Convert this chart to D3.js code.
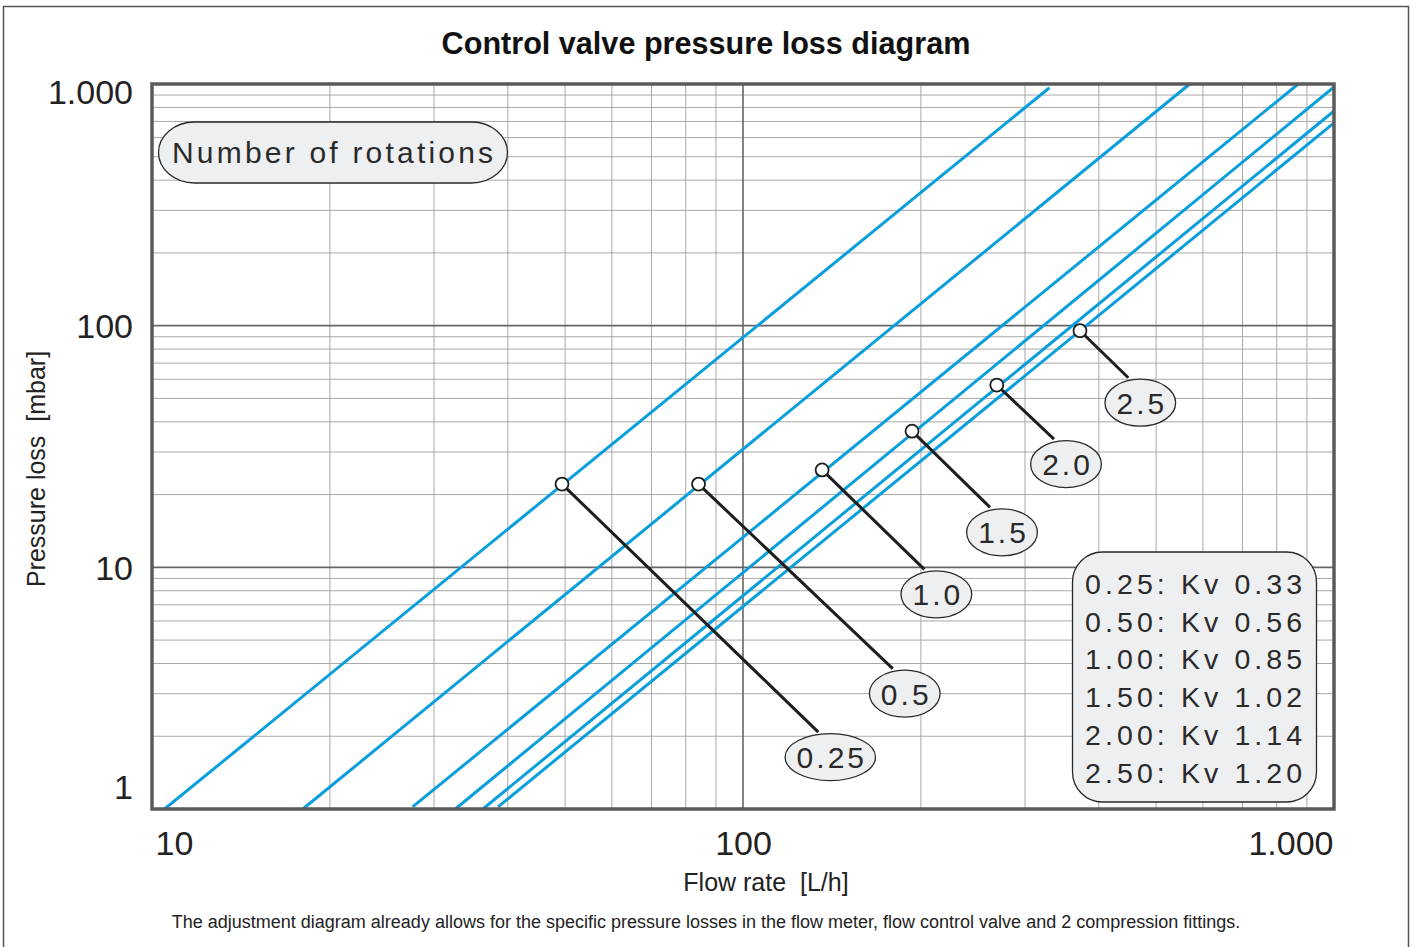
<html>
    <head>
        <title>Control valve pressure loss diagram</title>
        <script src="https://d3js.org/d3.v7.min.js" charset="utf-8"></script>
        <style>
            body { margin: 0; background: #fff; }
            text { font-family: "Liberation Sans", Arial, sans-serif; white-space: pre; }
        </style>
    </head>

    <body>
        <script type="text/javascript">

            // valve settings (number of rotations) and their Kv values
            var rotations = [0.25, 0.5, 1.0, 1.5, 2.0, 2.5];
            var kvValues = [0.33, 0.56, 0.85, 1.02, 1.14, 1.20];

            // each Kv line, start and end as [flow L/h, pressure mbar]
            var lineStart = [[10.5, 1], [18.0, 1], [27.6, 1.02], [32.6, 1], [36.3, 1], [38.5, 1.02]];
            var lineEnd = [[330, 965], [570, 1000], [870, 1000], [1000, 972], [1000, 773], [1000, 690]];

            // marked points on the lines
            var markerFlow = [49.4, 84.1, 136.1, 193.2, 268.8, 371.7];
            var markerPressure = [22.1, 22.1, 25.3, 36.6, 56.8, 95.3];

            // where the leader lines end (flow, pressure)
            var calloutFlow = [134.1, 179.2, 202.7, 261.8, 335.9, 448.7];
            var calloutPressure = [2.08, 3.81, 9.81, 17.7, 33.9, 60.9];

            // axes
            var xTicks = [10, 100, 1000];
            var yTicks = [1, 10, 100, 1000];
            var xDomain = [10, 1000];
            var yDomain = [1, 1000];

            var w = 1413;
            var h = 947;
            var pLeft = 152, pRight = 1334, pTop = 84, pBottom = 809;

            var svg = d3.select("body")
                        .append("svg")
                        .attr("width", w)
                        .attr("height", h);

            // outer frame
            svg.append("rect")
                .attr("x", 3.5).attr("y", 6.5)
                .attr("width", 1405).attr("height", 960)
                .attr("fill", "none")
                .attr("stroke", "#555")
                .attr("stroke-width", 1.5);

            var x = d3.scaleLog().domain(xDomain).range([pLeft, pRight]);
            var y = d3.scaleLog().domain(yDomain).range([pBottom, pTop]);

            var loc = d3.formatLocale({decimal: ",", thousands: ".", grouping: [3], currency: ["", ""]});
            var fmt = loc.format(",d");

            // minor grid
            var xMinor = [];
            var yMinor = [];
            [10, 100].forEach(function(dec) {
                for (var i = 2; i <= 9; i++) xMinor.push(dec * i);
            });
            [1, 10, 100].forEach(function(dec) {
                for (var i = 2; i <= 9; i++) yMinor.push(dec * i);
            });

            var grid = svg.append("g");
            grid.selectAll(".vx")
                .data(xMinor)
                .enter()
                .append("line")
                .attr("x1", function(d) { return x(d); })
                .attr("x2", function(d) { return x(d); })
                .attr("y1", pTop).attr("y2", pBottom)
                .attr("stroke", "#a8a8a8")
                .attr("stroke-width", 1);
            grid.selectAll(".hy")
                .data(yMinor)
                .enter()
                .append("line")
                .attr("y1", function(d) { return y(d); })
                .attr("y2", function(d) { return y(d); })
                .attr("x1", pLeft).attr("x2", pRight)
                .attr("stroke", "#a8a8a8")
                .attr("stroke-width", 1);

            // major grid
            grid.selectAll(".mx")
                .data([100])
                .enter()
                .append("line")
                .attr("x1", function(d) { return x(d); })
                .attr("x2", function(d) { return x(d); })
                .attr("y1", pTop).attr("y2", pBottom)
                .attr("stroke", "#666")
                .attr("stroke-width", 1.6);
            grid.selectAll(".my")
                .data([10, 100])
                .enter()
                .append("line")
                .attr("y1", function(d) { return y(d); })
                .attr("y2", function(d) { return y(d); })
                .attr("x1", pLeft).attr("x2", pRight)
                .attr("stroke", "#666")
                .attr("stroke-width", 1.6);

            // Kv lines
            svg.selectAll(".kv")
                .data(kvValues)
                .enter()
                .append("line")
                .attr("x1", function(d, i) { return x(lineStart[i][0]); })
                .attr("y1", function(d, i) { return y(lineStart[i][1]); })
                .attr("x2", function(d, i) { return x(lineEnd[i][0]); })
                .attr("y2", function(d, i) { return y(lineEnd[i][1]); })
                .attr("stroke", "#0a9fdc")
                .attr("stroke-width", 3);

            // plot frame
            svg.append("rect")
                .attr("x", pLeft).attr("y", pTop)
                .attr("width", pRight - pLeft).attr("height", pBottom - pTop)
                .attr("fill", "none")
                .attr("stroke", "#5a5a5a")
                .attr("stroke-width", 3.5);

            // leader lines
            svg.selectAll(".leader")
                .data(rotations)
                .enter()
                .append("line")
                .attr("x1", function(d, i) { return x(markerFlow[i]); })
                .attr("y1", function(d, i) { return y(markerPressure[i]); })
                .attr("x2", function(d, i) { return x(calloutFlow[i]); })
                .attr("y2", function(d, i) { return y(calloutPressure[i]); })
                .attr("stroke", "#1e1e1e")
                .attr("stroke-width", 3);

            svg.selectAll(".marker")
                .data(rotations)
                .enter()
                .append("circle")
                .attr("cx", function(d, i) { return x(markerFlow[i]); })
                .attr("cy", function(d, i) { return y(markerPressure[i]); })
                .attr("r", 6.5)
                .attr("fill", "#fff")
                .attr("stroke", "#1e1e1e")
                .attr("stroke-width", 1.8);

            // ellipse labels below each leader
            function rotLabel(v) {
                return Math.round(v * 10) === v * 10 ? v.toFixed(1) : String(v);
            }
            var callouts = svg.selectAll(".callout")
                .data(rotations)
                .enter()
                .append("g")
                .attr("transform", function(d, i) {
                    return "translate(" + (x(calloutFlow[i]) + 12) + "," + (y(calloutPressure[i]) + 25) + ")";
                });
            callouts.append("ellipse")
                .attr("ry", 23.5)
                .attr("fill", "#eeeff0")
                .attr("stroke", "#2a2a2a")
                .attr("stroke-width", 1.3);
            callouts.append("text")
                .attr("text-anchor", "middle")
                .attr("x", 1.5)
                .attr("y", 11)
                .attr("font-size", 30)
                .attr("letter-spacing", 3)
                .attr("fill", "#2a2a2a")
                .text(function(d) { return rotLabel(d); });
            callouts.each(function() {
                var g = d3.select(this);
                var tw = g.select("text").node().getComputedTextLength();
                g.select("ellipse").attr("rx", tw / 2 + 10);
            });

            // "Number of rotations" box
            svg.append("rect")
                .attr("x", 158.5).attr("y", 122)
                .attr("width", 349).attr("height", 61)
                .attr("rx", 36).attr("ry", 30.5)
                .attr("fill", "#eeeff0")
                .attr("stroke", "#2a2a2a")
                .attr("stroke-width", 1.3);
            svg.append("text")
                .attr("x", 172).attr("y", 163)
                .attr("font-size", 30)
                .attr("letter-spacing", 3.2)
                .attr("fill", "#2a2a2a")
                .text("Number of rotations");

            // Kv table
            svg.append("rect")
                .attr("x", 1072.5).attr("y", 552)
                .attr("width", 244).attr("height", 250)
                .attr("rx", 30).attr("ry", 30)
                .attr("fill", "#eeeff0")
                .attr("stroke", "#2a2a2a")
                .attr("stroke-width", 1.3);
            svg.selectAll(".kvrow")
                .data(kvValues)
                .enter()
                .append("text")
                .attr("x", 1085)
                .attr("y", function(d, i) { return 594 + i * 37.7; })
                .attr("font-size", 28.5)
                .attr("letter-spacing", 4.1)
                .attr("fill", "#2a2a2a")
                .text(function(d, i) { return d3.format(".2f")(rotations[i]) + ": Kv " + d3.format(".2f")(d); });

            // y axis
            var yAxis = svg.append("g")
                .attr("transform", "translate(133,0)")
                .call(d3.axisLeft(y).tickValues(yTicks).tickSize(0).tickPadding(0).tickFormat(fmt));
            yAxis.select(".domain").remove();
            yAxis.selectAll("text")
                .attr("font-size", 34)
                .attr("font-family", "Liberation Sans, Arial, sans-serif")
                .attr("fill", "#222")
                .attr("dy", "0.35em")
                .attr("y", function(d) {
                    var p = Math.min(Math.max(y(d), pTop + 8), pBottom - 22);
                    return p - y(d);
                });

            // x axis
            var xAxis = svg.append("g")
                .attr("transform", "translate(0," + pBottom + ")")
                .call(d3.axisBottom(x).tickValues(xTicks).tickSize(0).tickPadding(22).tickFormat(fmt));
            xAxis.select(".domain").remove();
            xAxis.selectAll("text")
                .attr("font-size", 34)
                .attr("font-family", "Liberation Sans, Arial, sans-serif")
                .attr("fill", "#222")
                .attr("text-anchor", function(d) { return d === xDomain[0] ? "start" : (d === xDomain[1] ? "end" : "middle"); })
                .attr("x", function(d) { return d === xDomain[0] ? 3 : (d === xDomain[1] ? -1 : 0); });

            // titles
            svg.append("text")
                .attr("x", 706).attr("y", 54)
                .attr("text-anchor", "middle")
                .attr("font-size", 30.6)
                .attr("font-weight", "bold")
                .attr("fill", "#111")
                .text("Control valve pressure loss diagram");

            svg.append("text")
                .attr("x", 766).attr("y", 891)
                .attr("text-anchor", "middle")
                .attr("font-size", 25)
                .attr("fill", "#222")
                .text("Flow rate  [L/h]");

            svg.append("text")
                .attr("transform", "translate(45,469) rotate(-90)")
                .attr("text-anchor", "middle")
                .attr("font-size", 25)
                .attr("fill", "#222")
                .text("Pressure loss  [mbar]");

            svg.append("text")
                .attr("x", 706).attr("y", 928)
                .attr("text-anchor", "middle")
                .attr("font-size", 18)
                .attr("fill", "#222")
                .text("The adjustment diagram already allows for the specific pressure losses in the flow meter, flow control valve and 2 compression fittings.");

        </script>
    </body>

</html>
